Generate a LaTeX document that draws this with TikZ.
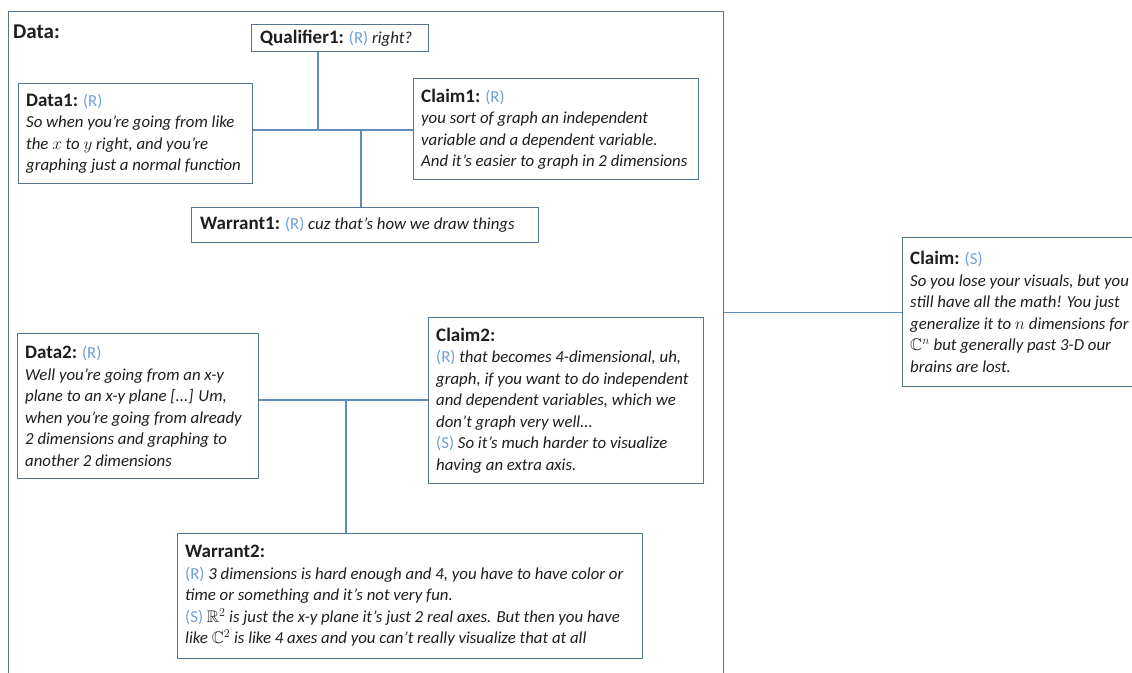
\documentclass[tikz,border=0pt]{standalone}
\usepackage{amssymb}
\usepackage{fontspec}
\setmainfont{Carlito}
\definecolor{boxc}{RGB}{84,118,150}
\definecolor{linec}{RGB}{95,140,185}
\definecolor{tagc}{RGB}{110,160,215}
\definecolor{inkc}{RGB}{30,30,30}
\tikzset{
  frame/.style={draw=boxc, line width=1.2pt, fill=white, anchor=north west, inner sep=0pt},
  txt/.style={anchor=west, inner sep=0pt, align=left, text=inkc,
    font=\fontsize{16.8}{21.5}\selectfont\itshape},
  link/.style={draw=linec, line width=1.2pt},
}
\newcommand{\tg}[1]{\textcolor{tagc}{\upshape(#1)}}
\newcommand{\hd}[1]{{\upshape\bfseries\fontsize{19}{21.5}\selectfont #1}}
\begin{document}
\begin{tikzpicture}[x=1pt,y=-1pt]
\useasboundingbox (0,0) rectangle (1132,672);
\clip (0,0) rectangle (1132,672);

% enclosing group of the first argument
\node[frame, minimum width=715pt, minimum height=700pt] (group) at (8,11) {};
\node[anchor=west, inner sep=0pt, text=inkc, font=\bfseries\fontsize{21}{24}\selectfont] (grouplabel) at (13,32) {Data:};

% boxes
\node[frame, minimum width=177pt, minimum height=27pt]  (qual)   at (251,24)  {};
\node[frame, minimum width=234pt, minimum height=100pt] (data1)  at (18,83)   {};
\node[frame, minimum width=285pt, minimum height=101pt] (claim1) at (413,78)  {};
\node[frame, minimum width=347pt, minimum height=35pt]  (warr1)  at (191,207) {};
\node[frame, minimum width=241pt, minimum height=145pt] (data2)  at (17,333)  {};
\node[frame, minimum width=275pt, minimum height=166pt] (claim2) at (428,317) {};
\node[frame, minimum width=465pt, minimum height=125pt] (warr2)  at (177,533) {};
\node[frame, minimum width=260pt, minimum height=149pt] (claim)  at (902,237) {};

% texts
\node[txt] (qualt) at ([xshift=9pt]qual.west) {\hd{Qualifier1:} \tg{R} right?};
\node[txt] (data1t) at ([xshift=8pt]data1.west) {\hd{Data1:} \tg{R}\\
  So when you're going from like\\
  the $x$ to $y$ right, and you're\\
  graphing just a normal function};
\node[txt] (claim1t) at ([xshift=8pt]claim1.west) {\hd{Claim1:} \tg{R}\\
  you sort of graph an independent\\
  variable and a dependent variable.\\
  And it's easier to graph in 2 dimensions};
\node[txt] (warr1t) at ([xshift=9pt]warr1.west) {\hd{Warrant1:} \tg{R} cuz that’s how we draw things};
\node[txt] (data2t) at ([xshift=8pt]data2.west) {\hd{Data2:} \tg{R}\\
  Well you're going from an x-y\\
  plane to an x-y plane [...] Um,\\
  when you're going from already\\
  2 dimensions and graphing to\\
  another 2 dimensions};
\node[txt] (claim2t) at ([xshift=8pt]claim2.west) {\hd{Claim2:}\\
  \tg{R} that becomes 4-dimensional, uh,\\
  graph, if you want to do independent\\
  and dependent variables, which we\\
  don't graph very well...\\
  \tg{S} So it's much harder to visualize\\
  having an extra axis.};
\node[txt] (warr2t) at ([xshift=8pt]warr2.west) {\hd{Warrant2:}\\
  \tg{R} 3 dimensions is hard enough and 4, you have to have color or\\
  time or something and it's not very fun.\\
  \tg{S} $\mathbb{R}^2$ is just the x-y plane it's just 2 real axes. But then you have\\
  like $\mathbb{C}^2$ is like 4 axes and you can't really visualize that at all};
\node[txt] (claimt) at ([xshift=8pt]claim.west) {\hd{Claim:} \tg{S}\\
  So you lose your visuals, but you\\
  still have all the math! You just\\
  generalize it to $n$ dimensions for\\
  $\mathbb{C}^n$ but generally past 3-D our\\
  brains are lost.};

% connectors
\coordinate (j1) at (318,130);
\coordinate (j2) at (361,130);
\coordinate (j3) at (346,400);
\draw[link] (data1.east |- j1) -- (claim1.west |- j1);
\draw[link] (qual.south -| j1) -- (j1);
\draw[link] (j2) -- (warr1.north -| j2);
\draw[link] (data2.east |- j3) -- (claim2.west |- j3);
\draw[link] (j3) -- (warr2.north -| j3);
\draw[link] (group.east |- claim.west) -- (claim.west);
\end{tikzpicture}
\end{document}
